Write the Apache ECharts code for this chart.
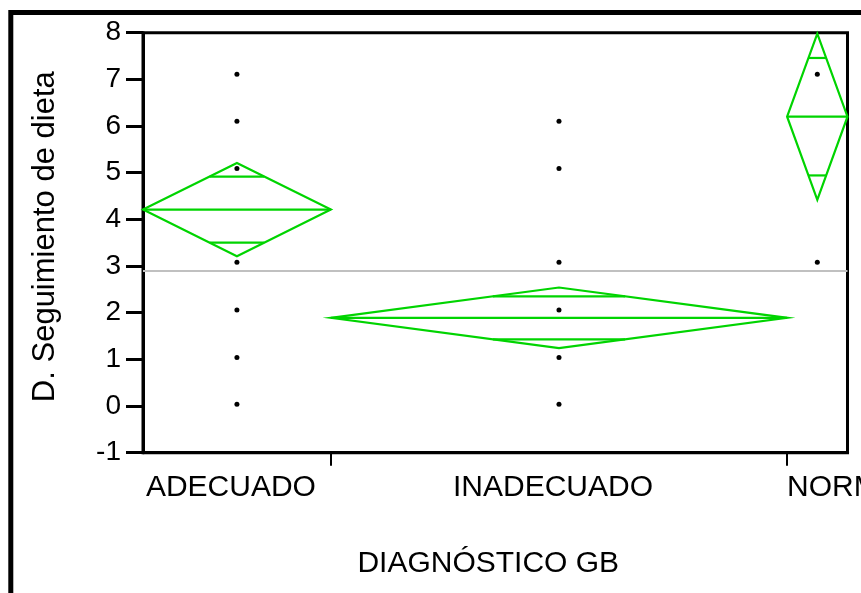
<!DOCTYPE html>
<html>
<head>
<meta charset="utf-8">
<script src="https://cdn.jsdelivr.net/npm/echarts@6/dist/echarts.min.js"></script>
<style>
  html, body { margin: 0; padding: 0; background: #ffffff; }
  #chart { width: 861px; height: 593px; }
</style>
</head>
<body>
<div id="chart"></div>
<script>
// Oneway analysis: D. Seguimiento de dieta by DIAGNÓSTICO GB (means diamonds)
const categories = ['ADECUADO', 'INADECUADO', 'NORMAL'];
const groupCounts = [28, 68, 9];          // group sizes -> band widths on the x axis
const groupMeans = [4.21, 1.89, 6.20];
const groupCI95 = [1.00, 0.65, 1.78];     // half-height of each diamond
const grandMean = 2.89;
const pointsAdecuado = [0.04, 1.04, 2.06, 3.08, 5.09, 6.10, 7.11];
const pointsInadecuado = [0.04, 1.04, 2.06, 3.08, 5.09, 6.10];
const pointsNormal = [3.08, 7.11];
const yMin = -1, yMax = 8, yStep = 1;

const FONT = "'Liberation Sans', Arial, sans-serif";
const GREEN = '#00d400';
const OVERLAP_HALF_FRAC = 0.145;

// cumulative band edges along x
const starts = [], ends = [], centers = [];
let acc = 0;
groupCounts.forEach(n => { starts.push(acc); acc += n; ends.push(acc); centers.push(acc - n / 2); });
const total = acc;

const groupPoints = [pointsAdecuado, pointsInadecuado, pointsNormal];
const scatterData = [];
groupPoints.forEach((pts, i) => pts.forEach(v => scatterData.push([centers[i], v])));

const diamondData = categories.map((c, i) => [starts[i], ends[i], groupMeans[i], groupCI95[i]]);

const chart = echarts.init(document.getElementById('chart'), null, { renderer: 'canvas' });

chart.setOption({
  animation: false,
  backgroundColor: '#ffffff',
  textStyle: { fontFamily: FONT },
  grid: {
    left: 143, right: 13.5, top: 32.7, bottom: 140.3,
    containLabel: false, outerBoundsMode: 'none',
    show: true, borderColor: '#000', borderWidth: 3, backgroundColor: 'transparent'
  },
  graphic: [{
    type: 'rect', silent: true,
    shape: { x: 10.8, y: 12.5, width: 1200, height: 1200 },
    style: { fill: null, stroke: '#000', lineWidth: 5 }
  }],
  xAxis: [{
    type: 'value', min: 0, max: total, position: 'bottom',
    axisLine: { show: true, onZero: false, lineStyle: { color: '#000', width: 3 } },
    axisTick: { show: true, customValues: [ends[0], ends[1]], length: 13, inside: false,
      lineStyle: { color: '#000', width: 2 } },
    axisLabel: {
      customValues: [centers[0], centers[1]],
      formatter: v => categories[centers.findIndex(c => Math.abs(c - v) < 1e-6)] || '',
      color: '#000', fontSize: 30, fontFamily: FONT, margin: 20, padding: [0, 12, 0, 0]
    },
    splitLine: { show: false },
    name: 'DIAGNÓSTICO GB', nameLocation: 'middle', nameGap: 96,
    nameTextStyle: { color: '#000', fontSize: 30, fontFamily: FONT, padding: [0, 14, 0, 0] }
  }, {
    type: 'value', min: 0, max: total, position: 'bottom',
    axisLine: { show: false, onZero: false }, axisTick: { show: false }, splitLine: { show: false },
    axisLabel: {
      customValues: [starts[2]],
      formatter: () => categories[2],
      align: 'left', color: '#000', fontSize: 30, fontFamily: FONT, margin: 20
    }
  }],
  yAxis: {
    type: 'value', min: yMin, max: yMax, interval: yStep,
    axisLine: { show: true, onZero: false, lineStyle: { color: '#000', width: 3 } },
    axisTick: { show: true, length: 17, lineStyle: { color: '#000', width: 3 } },
    axisLabel: { color: '#000', fontSize: 28, fontFamily: FONT, margin: 22 },
    splitLine: { show: false },
    name: 'D. Seguimiento de dieta', nameLocation: 'middle', nameGap: 82,
    nameTextStyle: { color: '#000', fontSize: 31, fontFamily: FONT, padding: [0, 0, 0, 12] }
  },
  series: [{
    type: 'custom',
    silent: true,
    xAxisIndex: 0,
    data: diamondData,
    renderItem: function (params, api) {
      const x0 = api.value(0), x1 = api.value(1), m = api.value(2), ci = api.value(3);
      const xc = (x0 + x1) / 2;
      const half = (x1 - x0) * OVERLAP_HALF_FRAC;
      const ov = ci / Math.SQRT2;
      const P = (x, y) => api.coord([x, y]);
      const style = { stroke: GREEN, lineWidth: 2.2, fill: null };
      return {
        type: 'group',
        children: [
          { type: 'polygon', shape: { points: [P(x0, m), P(xc, m + ci), P(x1, m), P(xc, m - ci)] }, style },
          { type: 'polyline', shape: { points: [P(x0, m), P(x1, m)] }, style },
          { type: 'polyline', shape: { points: [P(xc - half, m + ov), P(xc + half, m + ov)] }, style },
          { type: 'polyline', shape: { points: [P(xc - half, m - ov), P(xc + half, m - ov)] }, style }
        ]
      };
    },
    markLine: {
      silent: true, symbol: 'none', label: { show: false },
      lineStyle: { color: '#c0c0c0', width: 2, type: 'solid' },
      data: [{ yAxis: grandMean }]
    },
    z: 3
  }, {
    type: 'scatter',
    silent: true,
    xAxisIndex: 0,
    symbol: 'circle', symbolSize: 5,
    itemStyle: { color: '#000', opacity: 1 },
    data: scatterData,
    z: 4
  }]
});
</script>
</body>
</html>
